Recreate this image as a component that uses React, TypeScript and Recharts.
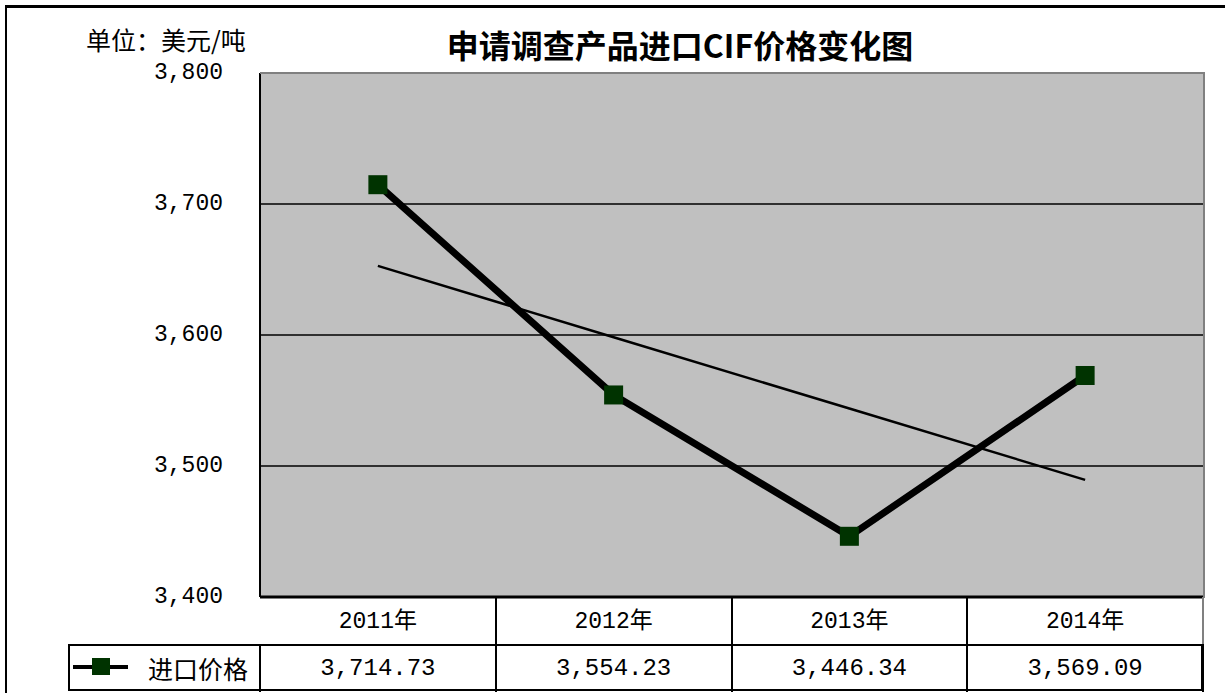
import React from "react";
import { ComposedChart, Line, XAxis, YAxis, CartesianGrid } from "recharts";

const years = ["2011年", "2012年", "2013年", "2014年"];
const prices = [3714.73, 3554.23, 3446.34, 3569.09];
// linear trend line
const trend = [3652.8, 3598.3, 3543.9, 3489.4];
const yTicks = [3400, 3500, 3600, 3700, 3800];
const seriesName = "进口价格";
const unitLabel = "单位：美元/吨";
const title = "申请调查产品进口CIF价格变化图";

const data = years.map((year, i) => ({ year, price: prices[i], trend: trend[i] }));

const W = 1225;
const H = 693;
const PLOT_L = 260;
const PLOT_R = 1203;
const PLOT_T = 73;
const PLOT_B = 597;
const ROW_MID = 645;
const TABLE_B = 692;
const LEGEND_L = 68;
const colW = (PLOT_R - PLOT_L) / years.length;

const numFont = "'Liberation Mono', 'Noto Sans CJK SC', monospace";
const cjkFont = "'Noto Sans CJK SC', sans-serif";

const fmtTick = (v: number) => v.toLocaleString("en-US");
const fmtVal = (v: number) =>
  v.toLocaleString("en-US", { minimumFractionDigits: 2, maximumFractionDigits: 2 });

function YTick(props: any) {
  const { y, payload } = props;
  return (
    <text x={223} y={y} textAnchor="end" dominantBaseline="central" fontSize={23} fontFamily={numFont} fill="#000">
      {fmtTick(payload.value)}
    </text>
  );
}

function XTick(props: any) {
  const { x, payload } = props;
  return (
    <text x={x} y={(PLOT_B + ROW_MID) / 2 + 1} textAnchor="middle" dominantBaseline="central" fontSize={23} fontFamily={numFont} fill="#000">
      {payload.value}
    </text>
  );
}

function SquareDot(props: any) {
  const { cx, cy } = props;
  if (cx == null || cy == null) return null;
  return <rect x={cx - 9.5} y={cy - 9.5} width={19} height={19} fill="#003300" />;
}

export default function App() {
  return (
    <div style={{ position: "absolute", left: 0, top: 0, width: W, height: H, background: "#fff", overflow: "hidden" }}>
      {/* outer frame */}
      <div style={{ position: "absolute", left: 5, top: 5, width: W, height: H, borderLeft: "2px solid #000", borderTop: "3px solid #000" }} />

      <div style={{ position: "absolute", left: 86, top: 21, fontSize: 25, fontFamily: cjkFont, color: "#000", whiteSpace: "nowrap" }}>
        {unitLabel}
      </div>
      <div style={{ position: "absolute", left: 0, width: 1360, top: 24, textAlign: "center", fontSize: 32, fontWeight: 700, fontFamily: cjkFont, color: "#000", whiteSpace: "nowrap", lineHeight: "40px" }}>
        {title}
      </div>

      <div style={{ position: "absolute", left: 0, top: 0 }}>
        <ComposedChart width={W} height={H} data={data} margin={{ top: PLOT_T, right: W - PLOT_R, bottom: 0, left: 0 }}>
          <CartesianGrid
            vertical={false}
            fill="#C0C0C0"
            fillOpacity={1}
            stroke="#000"
            strokeWidth={1.5}
            horizontalValues={[3500, 3600, 3700]}
          />
          <XAxis
            dataKey="year"
            height={H - PLOT_B}
            padding={{ left: colW / 2, right: colW / 2 }}
            tickLine={false}
            axisLine={{ stroke: "#000", strokeWidth: 3 }}
            tick={<XTick />}
            interval={0}
          />
          <YAxis
            width={PLOT_L}
            domain={[3400, 3800]}
            ticks={yTicks}
            tickLine={false}
            axisLine={{ stroke: "#000", strokeWidth: 2 }}
            tick={<YTick />}
            interval={0}
          />
          <Line dataKey="trend" stroke="#000" strokeWidth={2.5} dot={false} isAnimationActive={false} />
          <Line dataKey="price" name={seriesName} stroke="#000" strokeWidth={7} dot={<SquareDot />} isAnimationActive={false} />
        </ComposedChart>
      </div>

      {/* plot area top / right border */}
      <div style={{ position: "absolute", left: PLOT_L, top: PLOT_T - 1, width: PLOT_R - PLOT_L, height: PLOT_B - PLOT_T, borderTop: "2px solid #808080", borderRight: "2px solid #808080", pointerEvents: "none" }} />

      {/* data table lines */}
      {years.map((_, i) => (
        <div key={"r1" + i} style={{ position: "absolute", left: PLOT_L + colW * (i + 1) - 1, top: PLOT_B, width: 2, height: ROW_MID - PLOT_B, background: i === years.length - 1 ? "#808080" : "#000" }} />
      ))}
      <div style={{ position: "absolute", left: LEGEND_L, top: ROW_MID - 1, width: PLOT_R - LEGEND_L + 1, height: TABLE_B - ROW_MID, border: "2px solid #000", borderRight: "3px solid #000", boxSizing: "border-box" }} />
      <div style={{ position: "absolute", left: PLOT_L - 1, top: ROW_MID, width: 2, height: TABLE_B - ROW_MID, background: "#000" }} />
      {years.map((_, i) => (
        <div key={"r2" + i} style={{ position: "absolute", left: PLOT_L + colW * (i + 1) - 1, top: ROW_MID, width: 2, height: TABLE_B - ROW_MID, background: "#000" }} />
      ))}

      {/* legend cell */}
      <svg style={{ position: "absolute", left: LEGEND_L + 4, top: ROW_MID + 10 }} width={60} height={24}>
        <line x1={1} y1={12} x2={56} y2={12} stroke="#000" strokeWidth={4} />
        <rect x={20} y={3} width={18} height={17} fill="#003300" />
      </svg>
      <div style={{ position: "absolute", left: 148, top: ROW_MID, height: TABLE_B - ROW_MID, lineHeight: `${TABLE_B - ROW_MID}px`, fontSize: 25, fontFamily: cjkFont, color: "#000", whiteSpace: "nowrap" }}>
        {seriesName}
      </div>
      {prices.map((p, i) => (
        <div key={"v" + i} style={{ position: "absolute", left: PLOT_L + colW * i, width: colW, top: ROW_MID, height: TABLE_B - ROW_MID, lineHeight: `${TABLE_B - ROW_MID}px`, textAlign: "center", fontSize: 24, fontFamily: numFont, color: "#000", whiteSpace: "nowrap" }}>
          {fmtVal(p)}
        </div>
      ))}
    </div>
  );
}
